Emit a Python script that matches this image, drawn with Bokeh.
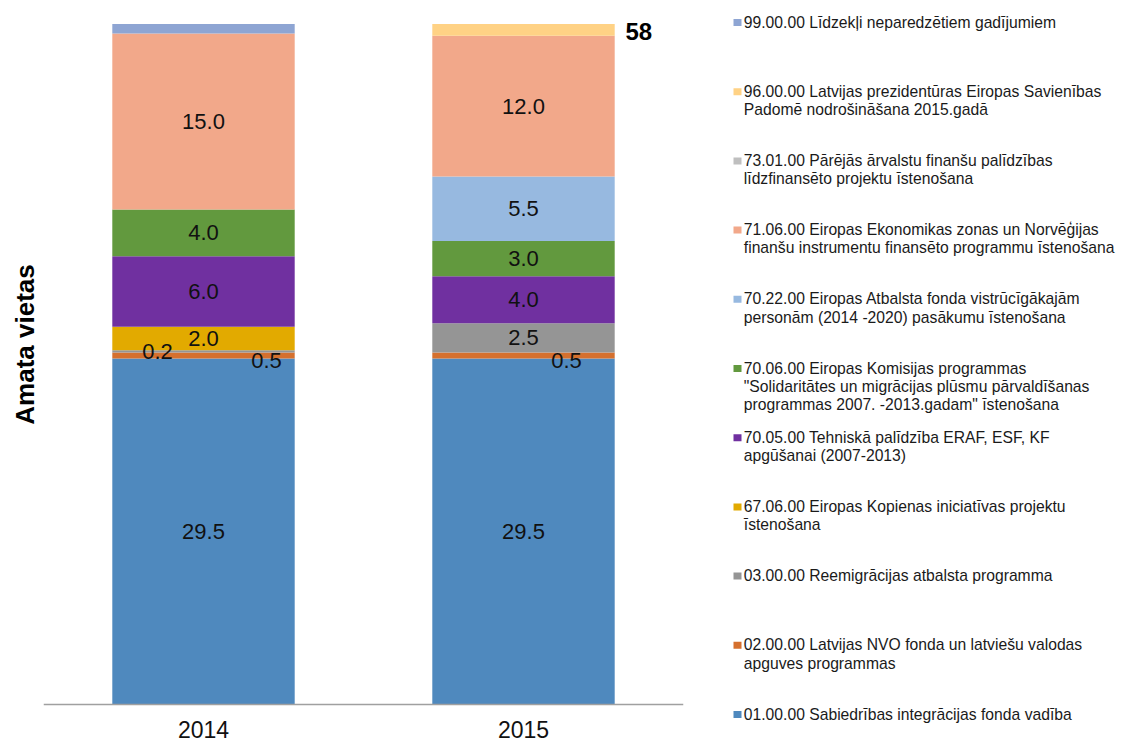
import numpy as np
from math import pi
from bokeh.plotting import figure
from bokeh.models import ColumnDataSource, FactorRange, Range1d, Span
from bokeh.layouts import row
from bokeh.embed import file_html
from bokeh.resources import INLINE
from bokeh.core.properties import value

# ---------------- data ----------------
years = ["2014", "2015"]

codes = ["01.00.00", "02.00.00", "03.00.00", "67.06.00", "70.05.00", "70.06.00",
         "70.22.00", "71.06.00", "73.01.00", "96.00.00", "99.00.00"]

names = [
    "01.00.00 Sabiedrības integrācijas fonda vadība",
    "02.00.00 Latvijas NVO fonda un latviešu valodas\napguves programmas",
    "03.00.00 Reemigrācijas atbalsta programma",
    "67.06.00 Eiropas Kopienas iniciatīvas projektu\nīstenošana",
    "70.05.00 Tehniskā palīdzība ERAF, ESF, KF\napgūšanai (2007-2013)",
    "70.06.00 Eiropas Komisijas programmas\n\"Solidaritātes un migrācijas plūsmu pārvaldīšanas\nprogrammas 2007. -2013.gadam\" īstenošana",
    "70.22.00 Eiropas Atbalsta fonda vistrūcīgākajām\npersonām (2014 -2020) pasākumu īstenošana",
    "71.06.00 Eiropas Ekonomikas zonas un Norvēģijas\nfinanšu instrumentu finansēto programmu īstenošana",
    "73.01.00 Pārējās ārvalstu finanšu palīdzības\nlīdzfinansēto projektu īstenošana",
    "96.00.00 Latvijas prezidentūras Eiropas Savienības\nPadomē nodrošināšana 2015.gadā",
    "99.00.00 Līdzekļi neparedzētiem gadījumiem",
]

s01 = [29.5, 29.5]
s02 = [0.5, 0.5]
s03 = [0.2, 2.5]
s6706 = [2.0, 0.0]
s7005 = [6.0, 4.0]
s7006 = [4.0, 3.0]
s7022 = [0.0, 5.5]
s7106 = [15.0, 12.0]
s7301 = [0.0, 0.0]
s96 = [0.0, 1.0]
s99 = [0.8, 0.0]

series = [s01, s02, s03, s6706, s7005, s7006, s7022, s7106, s7301, s96, s99]

colors = ["#4F89BE", "#D5702E", "#959595", "#E2AA00", "#7030A0", "#62993E",
          "#97B9E0", "#F2A88A", "#BFBFBF", "#FFD285", "#8EA5D3"]

y_title = "Amata vietas"

# segments that carry no value label
no_label = {"96.00.00", "99.00.00"}
# manual label displacements (px) for thin segments
label_shift = {("03.00.00", "2014"): (-46, 0),
               ("02.00.00", "2014"): (63, 5),
               ("02.00.00", "2015"): (43, 5)}

FONT = "Liberation Sans"
H = 742
TOP = 8


def blank_panel(w, xr, yr):
    f = figure(x_range=xr, y_range=yr, frame_width=w, frame_height=H - TOP,
               min_border_left=0, min_border_right=0, min_border_top=TOP, min_border_bottom=0,
               x_axis_location=None, y_axis_location=None,
               output_backend="svg", toolbar_location=None)
    f.grid.visible = False
    f.outline_line_color = None
    return f


# ---------------- y title panel ----------------
tp = blank_panel(43, Range1d(0, 43), Range1d(H, TOP))
tp.text(x=[24], y=[344], text=[y_title], angle=pi / 2,
        text_align="center", text_baseline="middle",
        text_font=value(FONT), text_font_size="26px", text_font_style="bold",
        text_color="#000000")

# ---------------- main chart ----------------
data = {"year": years}
for c, s in zip(codes, series):
    data[c] = s
source = ColumnDataSource(data)

p = figure(x_range=FactorRange(factors=years, range_padding=0.0),
           y_range=Range1d(-3.24, 59.33),
           frame_width=640, frame_height=H - TOP,
           min_border_left=0, min_border_right=15,
           min_border_top=TOP, min_border_bottom=0,
           x_axis_location=None, y_axis_location=None,
           output_backend="svg", toolbar_location=None)

p.vbar_stack(codes, x="year", width=0.57, color=colors, line_color=None, source=source)

# baseline (category axis line)
p.add_layout(Span(location=0, dimension="width", line_color="#A0A0A0", line_width=1.5))

# category labels
ysrc = ColumnDataSource(dict(x=years, y=[0] * len(years)))
p.text(x="x", y="y", text="x", source=ysrc, y_offset=25,
       text_align="center", text_baseline="middle",
       text_font=value(FONT), text_font_size="23px", text_color="#111111")

# value labels
arr = np.array(series)
cum = np.cumsum(arr, axis=0)
lx, ly, lt, dx, dy = [], [], [], [], []
for i, c in enumerate(codes):
    if c in no_label:
        continue
    for j, yr in enumerate(years):
        v = arr[i, j]
        if v <= 0:
            continue
        lx.append(yr)
        ly.append(cum[i, j] - v / 2.0)
        lt.append(f"{v:.1f}")
        ox, oy = label_shift.get((c, yr), (0, 0))
        dx.append(ox)
        dy.append(oy)
lsrc = ColumnDataSource(dict(x=lx, y=ly, t=lt, dx=dx, dy=dy))
p.text(x="x", y="y", text="t", x_offset="dx", y_offset="dy", source=lsrc,
       text_align="center", text_baseline="middle",
       text_font=value(FONT), text_font_size="22px", text_color="#111111")

# total label on the last bar
totals = cum[-1]
tsrc = ColumnDataSource(dict(x=[years[-1]], y=[totals[-1]], t=[f"{totals[-1]:.0f}"]))
p.text(x="x", y="y", text="t", source=tsrc, x_offset=102, y_offset=7,
       text_align="left", text_baseline="middle",
       text_font=value(FONT), text_font_size="24px", text_font_style="bold",
       text_color="#000000")

p.xgrid.visible = False
p.ygrid.visible = False
p.outline_line_color = None

# ---------------- legend panel ----------------
LW = 425
leg = blank_panel(LW, Range1d(0, LW), Range1d(H, TOP))

y0, step, lstep = 21.5, 69.2, 18.2
sq_x, sq_y, sq_c = [], [], []
tx, ty, tt = [], [], []
for k, idx in enumerate(range(len(codes) - 1, -1, -1)):
    yy = y0 + k * step
    sq_x.append(39)
    sq_y.append(yy + 0.5)
    sq_c.append(colors[idx])
    for m, line in enumerate(names[idx].split("\n")):
        tx.append(45.3)
        ty.append(yy + m * lstep)
        tt.append(line)

leg.rect(x=sq_x, y=sq_y, width=8, height=7, color=sq_c, line_color=None)
leg.text(x=tx, y=ty, text=tt, text_align="left", text_baseline="middle",
         text_font=value(FONT), text_font_size="15.7px", text_color="#1a1a1a")

layout = row(tp, p, leg)
open("out.html", "w").write(file_html(layout, INLINE))
